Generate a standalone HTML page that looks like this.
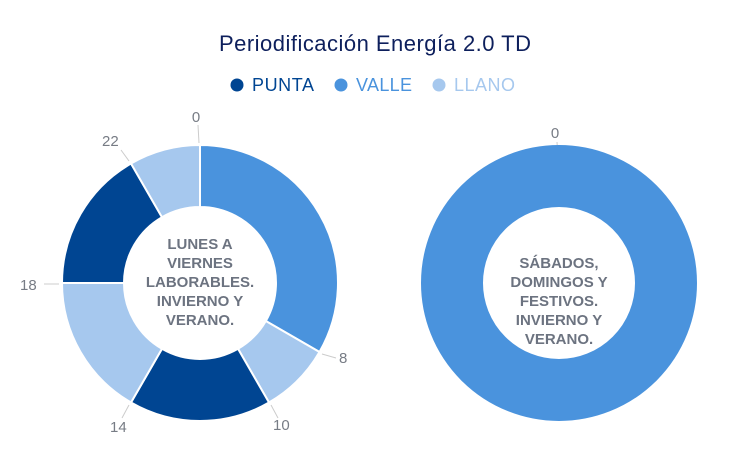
<!DOCTYPE html>
<html><head><meta charset="utf-8"><style>
body{margin:0;background:#fff;}
svg{display:block;font-family:"Liberation Sans",sans-serif;}
</style></head><body>
<svg width="750" height="471" viewBox="0 0 750 471">
<text x="375" y="51" text-anchor="middle" font-size="22" fill="#0d1f5c" textLength="312">Periodificación Energía 2.0 TD</text>
<circle cx="237" cy="85" r="6.5" fill="#004592"/><text x="252" y="91" font-size="18" fill="#004592" textLength="62">PUNTA</text>
<circle cx="341" cy="85" r="6.5" fill="#4a93dd"/><text x="356" y="91" font-size="18" fill="#4a93dd" textLength="56">VALLE</text>
<circle cx="439" cy="85" r="6.5" fill="#a6c8ee"/><text x="454" y="91" font-size="18" fill="#a6c8ee" textLength="61">LLANO</text>
<g stroke="#fff" stroke-width="2" stroke-linejoin="round">
<path d="M200,145 A138,138 0 0 1 319.5,352 L265.8,321 A76,76 0 0 0 200,207Z" fill="#4a93dd"/>
<path d="M319.5,352 A138,138 0 0 1 269,402.5 L238,348.8 A76,76 0 0 0 265.8,321Z" fill="#a6c8ee"/>
<path d="M269,402.5 A138,138 0 0 1 131,402.5 L162,348.8 A76,76 0 0 0 238,348.8Z" fill="#004592"/>
<path d="M131,402.5 A138,138 0 0 1 62,283 L124,283 A76,76 0 0 0 162,348.8Z" fill="#a6c8ee"/>
<path d="M62,283 A138,138 0 0 1 131,163.5 L162,217.2 A76,76 0 0 0 124,283Z" fill="#004592"/>
<path d="M131,163.5 A138,138 0 0 1 200,145 L200,207 A76,76 0 0 0 162,217.2Z" fill="#a6c8ee"/>
</g>
<g stroke="#ccc" stroke-width="1" fill="none">
<path d="M198,125 L199,143"/><path d="M322,354 L336,358"/><path d="M271,405 L278,418"/>
<path d="M129,405 L122,418"/><path d="M59,284 L44,284"/><path d="M129,161 L121,150"/>
<path d="M557,142 L558,157"/>
</g>
<g font-size="15" fill="#777c85">
<text x="196" y="122" text-anchor="middle">0</text>
<text x="339" y="363">8</text>
<text x="273" y="430">10</text>
<text x="110" y="432">14</text>
<text x="20" y="290">18</text>
<text x="102" y="146">22</text>
<text x="555" y="138" text-anchor="middle">0</text>
</g>
<circle cx="559" cy="283" r="107" fill="none" stroke="#4a93dd" stroke-width="62"/>
<g font-size="15" fill="#6c7380" text-anchor="middle" font-weight="bold">
<text x="200" y="249">LUNES A</text><text x="200" y="268">VIERNES</text><text x="200" y="287">LABORABLES.</text><text x="200" y="306">INVIERNO Y</text><text x="200" y="325">VERANO.</text>
<text x="559" y="268">SÁBADOS,</text><text x="559" y="287">DOMINGOS Y</text><text x="559" y="306">FESTIVOS.</text><text x="559" y="325">INVIERNO Y</text><text x="559" y="344">VERANO.</text>
</g>
</svg>
</body></html>
